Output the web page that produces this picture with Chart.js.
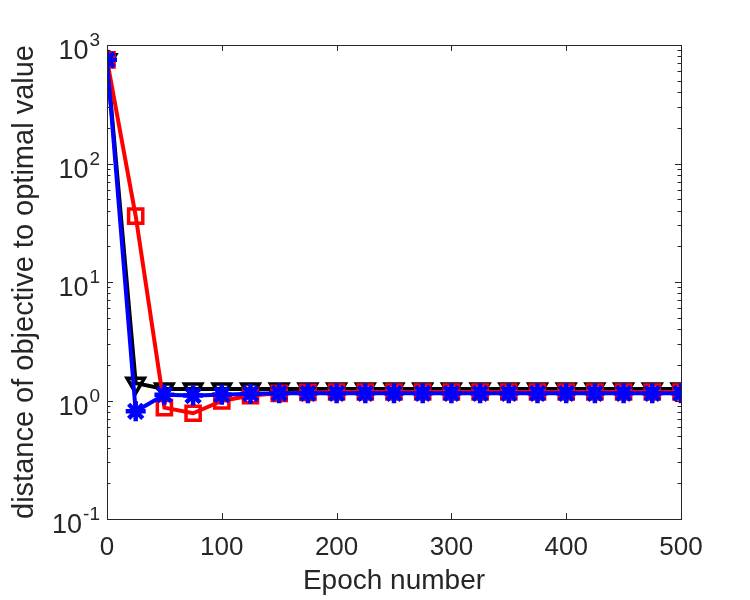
<!DOCTYPE html>
<html><head><meta charset="utf-8">
<script src="https://cdn.jsdelivr.net/npm/chart.js@4"></script>
<style>html,body{margin:0;padding:0;background:#fff}#wrap{width:750px;height:600px}</style>
</head><body><div id="wrap"><canvas id="c" width="750" height="600"></canvas></div>
<script>
const epochs = [0,25,50,75,100,125,150,175,200,225,250,275,300,325,350,375,400,425,450,475,500];
const blackSeries = [750,1.40,1.25,1.25,1.25,1.25,1.25,1.25,1.25,1.25,1.25,1.25,1.25,1.25,1.25,1.25,1.25,1.25,1.25,1.25,1.25];
const redSeries   = [750,36,0.87,0.78,0.99,1.10,1.15,1.17,1.18,1.18,1.18,1.18,1.18,1.18,1.18,1.18,1.18,1.18,1.18,1.18,1.18];
const blueSeries  = [750,0.81,1.12,1.10,1.12,1.14,1.15,1.15,1.15,1.15,1.15,1.15,1.15,1.15,1.15,1.15,1.15,1.15,1.15,1.15,1.15];
const xTicks = [0,100,200,300,400,500];
const yTicks = [0.1,1,10,100,1000];
const yTickBase = ['10','10','10','10','10'];
const yTickExp  = ['-1','0','1','2','3'];

const FONT = '"Liberation Sans", Arial, Helvetica, sans-serif';
const TXT = '#262626';
const pts = arr => arr.map((v,i)=>({x:epochs[i], y:v}));

const frame = {
  id:'frame',
  afterDraw(chart){
    const {ctx, chartArea:a, scales:{x,y}} = chart;
    ctx.save();
    ctx.strokeStyle=TXT; ctx.lineWidth=1;
    ctx.strokeRect(a.left+0.5, a.top+0.5, a.right-a.left, a.bottom-a.top);
    ctx.beginPath();
    xTicks.forEach(v=>{
      const px=Math.round(x.getPixelForValue(v))+0.5;
      ctx.moveTo(px,a.bottom); ctx.lineTo(px,a.bottom-6);
      ctx.moveTo(px,a.top); ctx.lineTo(px,a.top+6);
    });
    for(let d=0.1; d<1000; d*=10){
      for(let m=1;m<10;m++){
        const v=d*m; const len = m===1?6:3.5;
        const py=Math.round(y.getPixelForValue(v))+0.5;
        ctx.moveTo(a.left,py); ctx.lineTo(a.left+len,py);
        ctx.moveTo(a.right,py); ctx.lineTo(a.right-len,py);
      }
    }
    ctx.stroke();
    ctx.fillStyle=TXT;
    ctx.textBaseline='alphabetic';
    yTicks.forEach((v,i)=>{
      const py=y.getPixelForValue(v);
      ctx.font='19px '+FONT;
      const ew=ctx.measureText(yTickExp[i]).width;
      ctx.font='27px '+FONT;
      const bw=ctx.measureText(yTickBase[i]).width;
      const right=a.left-7;
      ctx.textAlign='left';
      ctx.fillText(yTickBase[i], right-ew-bw-1, py+14);
      ctx.font='19px '+FONT;
      ctx.fillText(yTickExp[i], right-ew, py+1);
    });
    ctx.restore();
  }
};

new Chart(document.getElementById('c'), {
  type:'line',
  data:{datasets:[
    {data:pts(blueSeries), borderColor:'#0000ff', backgroundColor:'#0000ff', borderWidth:4,
     pointStyle:'star', pointRadius:10, pointBorderWidth:4.5, pointBorderColor:'#0000ff', pointBackgroundColor:'#0000ff'},
    {data:pts(redSeries), borderColor:'#ff0000', backgroundColor:'rgba(0,0,0,0)', borderWidth:4,
     pointStyle:'rect', pointRadius:10, pointBorderWidth:3.5, pointBorderColor:'#ff0000', pointBackgroundColor:'rgba(0,0,0,0)'},
    {data:pts(blackSeries), borderColor:'#000000', backgroundColor:'rgba(0,0,0,0)', borderWidth:4,
     pointStyle:'triangle', pointRotation:180, pointRadius:10, pointBorderWidth:3.5, pointBorderColor:'#000000', pointBackgroundColor:'rgba(0,0,0,0)'}
  ]},
  options:{
    responsive:false, animation:false, devicePixelRatio:1,
    layout:{padding:{left:0,right:69,top:45,bottom:0}},
    plugins:{legend:{display:false}, tooltip:{enabled:false}},
    elements:{line:{tension:0}},
    scales:{
      x:{type:'linear', min:0, max:500,
        grid:{display:false, drawTicks:false}, border:{display:false},
        afterBuildTicks(s){ s.ticks = xTicks.map(v=>({value:v})); },
        ticks:{color:TXT, font:{family:FONT,size:26}, padding:13, maxRotation:0},
        title:{display:true, text:'Epoch number', color:TXT, font:{family:FONT,size:28}, padding:{top:0,bottom:2}},
        afterFit(s){ s.height = 81; }
      },
      y:{type:'logarithmic', min:0.1, max:1000,
        grid:{display:false, drawTicks:false}, border:{display:false},
        afterBuildTicks(s){ s.ticks = yTicks.map(v=>({value:v})); },
        ticks:{display:false},
        title:{display:true, text:'distance of objective to optimal value', color:TXT, font:{family:FONT,size:29}, padding:{top:8,bottom:0}},
        afterFit(s){ s.width = 107; }
      }
    }
  },
  plugins:[frame]
});
</script></body></html>
